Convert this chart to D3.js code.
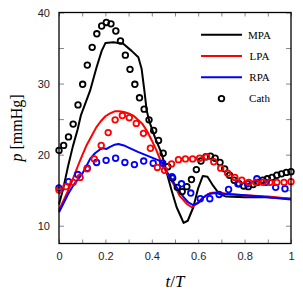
<!DOCTYPE html>
<html lang="en">
<head>
    <meta charset="utf-8" />
    <style>
        body {margin:0; background:#fff;}
        .tick text {font-family: "Liberation Sans", Arial, sans-serif; font-size: 11px; fill: #222;}
        .tick line {stroke: #888; stroke-width: 1;}
        .domain {display: none;}
        .legend text {font-family: "Liberation Serif", "Times New Roman", serif; font-size: 11px;}
    </style>
    <script src="https://cdn.jsdelivr.net/npm/d3@7"></script>
</head>
<body>
    <svg></svg>
</body>
<script>
    var width = 303,
        height = 299,
        margin = {top: 12.5, right: 12, bottom: 55.5, left: 59};

    // model curves (t/T, p in mmHg)
    var mpaT = [0, 0.02, 0.04, 0.06, 0.08, 0.095, 0.11, 0.134, 0.162, 0.184, 0.2, 0.234, 0.277, 0.313, 0.342, 0.356,
                0.368, 0.378, 0.39, 0.414, 0.443, 0.464, 0.486, 0.507, 0.525, 0.537, 0.555, 0.579, 0.6, 0.62, 0.64,
                0.665, 0.69, 0.72, 0.8, 0.9, 1];
    var mpaP = [13.0, 15.5, 18.5, 21.2, 23.5, 25.6, 26.9, 29.0, 32.3, 34.6, 35.7, 35.8, 35.6, 34.6, 33.7, 32.1,
                29.0, 26.2, 24.6, 22.4, 20.1, 17.5, 14.9, 12.6, 11.3, 10.4, 10.7, 12.6, 15.3, 17.0, 16.9,
                15.6, 14.5, 14.1, 14.0, 14.0, 13.8];

    var lpaT = [0, 0.02, 0.04, 0.06, 0.08, 0.1, 0.12, 0.14, 0.16, 0.18, 0.2, 0.22, 0.24, 0.26, 0.28, 0.3, 0.32,
                0.34, 0.36, 0.38, 0.4, 0.42, 0.44, 0.46, 0.48, 0.5, 0.52, 0.55, 0.572, 0.593, 0.622, 0.651, 0.687,
                0.72, 0.8, 0.9, 1];
    var lpaP = [12.2, 13.6, 15.0, 16.6, 18.3, 19.9, 21.4, 22.6, 23.8, 24.7, 25.4, 25.8, 26.1, 26.1, 26.0, 25.8, 25.5,
                24.9, 24.3, 23.3, 22.0, 20.6, 19.0, 17.7, 16.6, 15.5, 14.2, 13.1, 12.6, 13.1, 14.0, 14.6, 14.7,
                14.5, 14.3, 14.1, 13.8];

    var rpaT = [0, 0.02, 0.04, 0.06, 0.083, 0.1, 0.112, 0.134, 0.155, 0.175, 0.19, 0.205, 0.22, 0.24, 0.256, 0.28,
                0.3, 0.34, 0.385, 0.43, 0.45, 0.465, 0.486, 0.505, 0.522, 0.54, 0.557, 0.579, 0.6, 0.62, 0.64, 0.67,
                0.7, 0.8, 0.9, 1];
    var rpaP = [11.9, 13.2, 14.5, 15.6, 16.6, 17.3, 18.0, 19.4, 20.2, 20.7, 20.9, 20.8, 21.1, 21.4, 21.5, 21.3,
                21.0, 20.4, 19.8, 19.2, 18.7, 17.6, 16.5, 15.5, 14.7, 13.9, 13.3, 12.9, 13.2, 13.9, 14.4, 14.6,
                14.5, 14.3, 14.0, 13.7];

    // catheter measurements
    var cathMpaT = [0, 0.020, 0.041, 0.061, 0.082, 0.102, 0.122, 0.143, 0.163, 0.184, 0.204, 0.224, 0.245, 0.265,
                    0.286, 0.306, 0.327, 0.347, 0.367, 0.388, 0.408, 0.429, 0.449, 0.469, 0.490, 0.510, 0.531,
                    0.551, 0.571, 0.592, 0.612, 0.633, 0.653, 0.673, 0.694, 0.714, 0.735, 0.755, 0.776, 0.796,
                    0.816, 0.837, 0.857, 0.878, 0.898, 0.918, 0.939, 0.959, 0.980, 1];
    var cathMpaP = [20.6, 21.3, 22.5, 24.3, 27.0, 29.9, 32.6, 35.1, 37.0, 38.1, 38.6, 38.4, 37.4, 36.0,
                    34.0, 32.0, 29.9, 28.0, 26.4, 24.9, 23.4, 22.0, 20.2, 18.3, 16.7, 15.4, 14.8,
                    15.5, 16.5, 17.9, 19.1, 19.7, 19.8, 19.5, 18.9, 18.0, 17.1, 16.4, 15.9, 15.6,
                    15.5, 15.8, 16.1, 16.4, 16.6, 16.8, 17.1, 17.3, 17.5, 17.6];

    var cathRpaT = [0, 0.041, 0.081, 0.122, 0.162, 0.203, 0.244, 0.284, 0.325, 0.365, 0.406, 0.447, 0.487,
                    0.528, 0.568, 0.609, 0.650, 0.690, 0.731, 0.771, 0.812, 0.853, 0.893, 0.934, 0.974];
    var cathRpaP = [15.3, 16.2, 17.2, 18.1, 18.9, 19.2, 19.5, 18.9, 18.6, 19.1, 18.8, 18.8, 16.9,
                    15.9, 14.6, 13.8, 13.8, 14.4, 15.1, 15.9, 15.9, 16.6, 16.1, 15.4, 15.2];

    var cathLpaT = [0, 0.030, 0.061, 0.091, 0.121, 0.152, 0.182, 0.212, 0.242, 0.273, 0.303, 0.333, 0.364,
                    0.394, 0.424, 0.455, 0.485, 0.515, 0.545, 0.576, 0.606, 0.636, 0.667, 0.697, 0.727, 0.758,
                    0.788, 0.818, 0.848, 0.879, 0.909, 0.939, 0.970, 1];
    var cathLpaP = [15.0, 15.5, 16.1, 16.8, 18.0, 19.4, 21.3, 23.1, 24.9, 25.5, 25.2, 24.4, 23.0,
                    20.9, 18.2, 17.8, 18.7, 19.3, 19.4, 19.4, 19.5, 19.7, 19.0, 18.1, 17.4, 16.8,
                    16.4, 16.1, 16.1, 16.1, 16.1, 16.1, 16.1, 16.2];

    var xTicks = [0, 0.1, 0.2, 0.3, 0.4, 0.5, 0.6, 0.7, 0.8, 0.9, 1];
    var xLabels = [0, 0.2, 0.4, 0.6, 0.8, 1];
    var yTicks = [10, 15, 20, 25, 30, 35, 40];
    var yLabels = [10, 20, 30, 40];

    var legendNames = ["MPA", "LPA", "RPA", "Cath"];
    var colors = ["#000000", "#ff0000", "#0000ff"];

    var w = width - margin.left - margin.right,
        h = height - margin.top - margin.bottom;

    var x = d3.scaleLinear().domain([0, 1]).range([0, w]);
    var y = d3.scaleLinear().domain([7.5, 40]).range([h, 0]);

    var svg = d3.select("svg")
        .attr("width", width)
        .attr("height", height)

    var g = svg.append("g")
        .attr("transform", "translate(" + margin.left + "," + margin.top + ")")

    function fmt(d) {return String(d)}

    g.append("g")
        .attr("transform", "translate(0," + h + ")")
        .call(d3.axisBottom(x).tickValues(xTicks).tickSize(-4).tickPadding(9)
            .tickFormat(function(d) {return xLabels.indexOf(d) >= 0 ? fmt(d) : ""}))
    g.append("g")
        .call(d3.axisTop(x).tickValues(xTicks).tickSize(-4).tickFormat(""))
    g.append("g")
        .call(d3.axisLeft(y).tickValues(yTicks).tickSize(-5).tickPadding(9)
            .tickFormat(function(d) {return yLabels.indexOf(d) >= 0 ? fmt(d) : ""}))
    g.append("g")
        .attr("transform", "translate(" + w + ",0)")
        .call(d3.axisRight(y).tickValues(yTicks).tickSize(-5).tickFormat(""))

    var line = d3.line()
        .x(function(d) {return x(d[0])})
        .y(function(d) {return y(d[1])})

    var curves = [[mpaT, mpaP], [lpaT, lpaP], [rpaT, rpaP]];
    curves.forEach(function(c, i) {
        g.append("path")
            .datum(d3.zip(c[0], c[1]))
            .attr("d", line)
            .attr("fill", "none")
            .attr("stroke", colors[i])
            .attr("stroke-width", 2)
            .attr("stroke-linejoin", "round")
    })

    var cath = [[cathMpaT, cathMpaP, 0], [cathRpaT, cathRpaP, 2], [cathLpaT, cathLpaP, 1]];
    cath.forEach(function(c) {
        g.append("g").selectAll("circle")
            .data(d3.zip(c[0], c[1]))
          .enter().append("circle")
            .attr("cx", function(d) {return x(d[0])})
            .attr("cy", function(d) {return y(d[1])})
            .attr("r", 2.8)
            .attr("fill", "none")
            .attr("stroke", colors[c[2]])
            .attr("stroke-width", 1.8)
    })

    // frame
    g.append("rect")
        .attr("width", w)
        .attr("height", h)
        .attr("fill", "none")
        .attr("stroke", "#000")
        .attr("stroke-width", 1.3)

    // legend
    var legend = svg.append("g").attr("class", "legend")
    legendNames.forEach(function(name, i) {
        var ly = 34.7 + i * 21.3;
        if (i < 3) {
            legend.append("line")
                .attr("x1", 201).attr("x2", 242)
                .attr("y1", ly).attr("y2", ly)
                .attr("stroke", colors[i])
                .attr("stroke-width", 2)
        } else {
            legend.append("circle")
                .attr("cx", 221.5).attr("cy", ly)
                .attr("r", 2.8)
                .attr("fill", "none")
                .attr("stroke", "#000")
                .attr("stroke-width", 1.8)
        }
        legend.append("text")
            .attr("x", 259.5).attr("y", ly + 3.8)
            .attr("text-anchor", "middle")
            .text(name)
    })

    // axis titles
    var xt = svg.append("text")
        .attr("x", 175).attr("y", 287)
        .attr("text-anchor", "middle")
        .style("font-family", "'Liberation Serif', 'Times New Roman', serif")
        .style("font-size", "17px")
    xt.append("tspan").style("font-style", "italic").text("t")
    xt.append("tspan").text("/")
    xt.append("tspan").style("font-style", "italic").text("T")

    var yt = svg.append("text")
        .attr("transform", "translate(22,128) rotate(-90)")
        .attr("text-anchor", "middle")
        .style("font-family", "'Liberation Serif', 'Times New Roman', serif")
        .style("font-size", "16px")
    yt.append("tspan").style("font-style", "italic").text("p")
    yt.append("tspan").text(" [mmHg]")
</script>
</html>
